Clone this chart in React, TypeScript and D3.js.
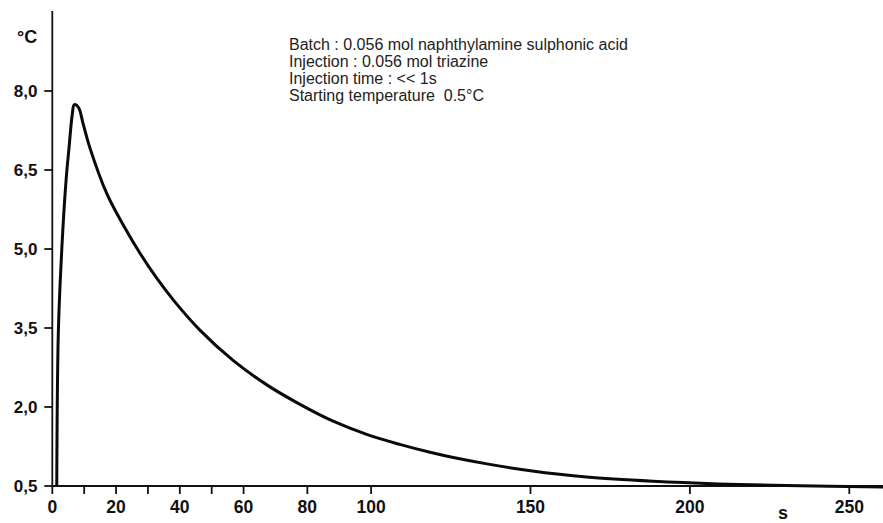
import React from "react";
import * as d3 from "d3";

const timeS = [1.4, 1.9, 3.0, 4.3, 5.24, 6.27, 6.9, 8.2, 9.7, 11.8, 17.1, 22.3, 27.5, 32.7, 38, 46.3, 56.8, 67.3, 77.7, 88.1, 98.6, 109, 118.5, 125.8, 136.3, 150, 167.6, 188.5, 209, 230, 262];
const tempC = [0.5, 3.43, 5.02, 6.29, 6.92, 7.56, 7.74, 7.69, 7.37, 6.92, 6.05, 5.45, 4.92, 4.45, 4.03, 3.46, 2.88, 2.42, 2.05, 1.73, 1.48, 1.29, 1.14, 1.04, 0.92, 0.79, 0.67, 0.59, 0.54, 0.51, 0.48];

const xTickLabeled = [0, 20, 40, 60, 80, 100, 150, 200, 250];
const xTickMinor = [10, 30, 50];
const yTicks = [0.5, 2.0, 3.5, 5.0, 6.5, 8.0];
const notes = [
  "Batch : 0.056 mol naphthylamine sulphonic acid",
  "Injection : 0.056 mol triazine",
  "Injection time : << 1s",
  "Starting temperature  0.5°C",
];

export default function App() {
  const W = 883, H = 523;
  const x = d3.scaleLinear().domain([0, 250]).range([52.3, 849.3]);
  const y = d3.scaleLinear().domain([0.5, 8.0]).range([486, 91]);
  const pts = timeS.map((t, i) => [t, tempC[i]] as [number, number]);
  const line = d3.line<[number, number]>().x(d => x(d[0])).y(d => y(d[1])).curve(d3.curveCatmullRom.alpha(0.5));
  const fmt = (v: number) => v.toFixed(1).replace(".", ",");
  const font = "'Liberation Sans', Arial, sans-serif";
  const x0 = x(0);
  const yBase = y(0.5);
  return (
    <svg width={W} height={H} style={{ position: "absolute", left: 0, top: 0, background: "#fff" }} fontFamily={font}>
      <line x1={x0} x2={x0} y1={11} y2={yBase + 1} stroke="#111" strokeWidth={1.8} />
      <line x1={x0} x2={W} y1={yBase} y2={yBase} stroke="#111" strokeWidth={1.8} />
      {yTicks.map(v => (
        <g key={"y" + v}>
          <line x1={x0 - 8} x2={x0} y1={y(v)} y2={y(v)} stroke="#111" strokeWidth={1.8} />
          <text x={37.5} y={y(v)} dy="0.36em" textAnchor="end" fontSize={17} fontWeight="bold" fill="#111">{fmt(v)}</text>
        </g>
      ))}
      {[...xTickLabeled, ...xTickMinor].map(v => (
        <line key={"xt" + v} x1={x(v)} x2={x(v)} y1={yBase} y2={yBase + 8} stroke="#111" strokeWidth={1.8} />
      ))}
      {xTickLabeled.map(v => (
        <text key={"xl" + v} x={x(v)} y={513} textAnchor="middle" fontSize={17.5} fontWeight="bold" fill="#111">{v}</text>
      ))}
      <text x={17} y={43} fontSize={18} fontWeight="bold" fill="#111">°C</text>
      <text x={778} y={519} fontSize={18} fontWeight="bold" fill="#111">s</text>
      {notes.map((n, i) => (
        <text key={"n" + i} x={289} y={50 + i * 17} fontSize={16} fill="#222" style={{ whiteSpace: "pre" }}>{n}</text>
      ))}
      <path d={line(pts) || ""} fill="none" stroke="#0a0a0a" strokeWidth={3} strokeLinejoin="round" />
    </svg>
  );
}
